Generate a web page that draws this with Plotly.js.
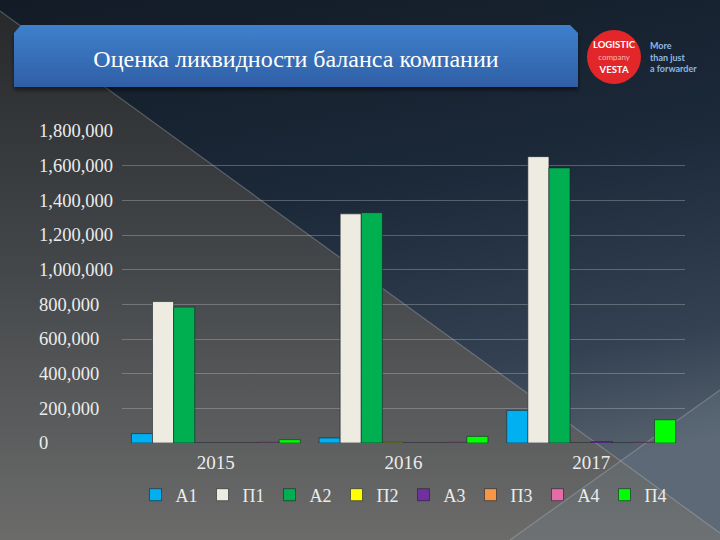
<!DOCTYPE html>
<html>
<head>
<meta charset="utf-8">
<script src="https://cdn.plot.ly/plotly-3.0.1.min.js"></script>
<style>
  html, body { margin: 0; padding: 0; background: #131c27; }
  #wrap { position: relative; width: 720px; height: 540px; overflow: hidden; }
  #bg { position: absolute; left: 0; top: 0; }
  #chart { position: absolute; left: 0; top: 0; width: 720px; height: 540px; }
</style>
</head>
<body>
<div id="wrap">
<svg id="bg" width="720" height="540" xmlns="http://www.w3.org/2000/svg">
  <defs>
    <linearGradient id="navy" x1="0" y1="0" x2="0.25" y2="1">
      <stop offset="0" stop-color="#121b26"/>
      <stop offset="0.45" stop-color="#1c2939"/>
      <stop offset="0.8" stop-color="#334152"/>
      <stop offset="1" stop-color="#56616d"/>
    </linearGradient>
    <linearGradient id="gray" x1="0" y1="0" x2="0" y2="1">
      <stop offset="0" stop-color="#27292b"/>
      <stop offset="0.5" stop-color="#45484b"/>
      <stop offset="1" stop-color="#6b6b6a"/>
    </linearGradient>
    <linearGradient id="banner" x1="0" y1="0" x2="0" y2="1">
      <stop offset="0" stop-color="#3f80cc"/>
      <stop offset="1" stop-color="#2f5fa6"/>
    </linearGradient>
    <filter id="sh" x="-5%" y="-20%" width="110%" height="150%">
      <feDropShadow dx="0" dy="3" stdDeviation="2" flood-color="#000" flood-opacity="0.5"/>
    </filter>
  </defs>
  <rect x="0" y="0" width="720" height="540" fill="url(#navy)"/>
  <polygon points="0,11 720,533 720,540 0,540" fill="url(#gray)"/>
  <polygon points="510,540 720,390 720,540" fill="rgba(120,135,150,0.22)"/>
  <line x1="0" y1="11" x2="720" y2="533" stroke="rgba(200,205,215,0.3)" stroke-width="1.2"/>
  <line x1="510" y1="540" x2="720" y2="390" stroke="rgba(200,205,215,0.3)" stroke-width="1.2"/>
  <path d="M14,33 L21,25 L570,25 L578,33 L578,87 L14,87 Z" fill="url(#banner)" filter="url(#sh)"/>
  <circle cx="614" cy="57" r="27" fill="#e3262a"/>
</svg>
<div id="chart"></div>
</div>
<script>
// ---- data ----
const years = ["2015", "2016", "2017"];
const seriesNames = ["А1", "П1", "А2", "П2", "А3", "П3", "А4", "П4"];
const A1 = [54000, 29000, 188000];
const P1 = [816000, 1322000, 1652000];
const A2 = [784000, 1329000, 1587000];
const P2 = [0, 4000, 0];
const A3 = [0, 0, 8000];
const P3 = [0, 0, 0];
const A4 = [4000, 4000, 4000];
const P4 = [19000, 38000, 134000];
const tickValues = [0, 200000, 400000, 600000, 800000, 1000000, 1200000, 1400000, 1600000, 1800000];
const tickLabels = ["0", "200,000", "400,000", "600,000", "800,000", "1,000,000", "1,200,000", "1,400,000", "1,600,000", "1,800,000"];
const chartTitle = "Оценка ликвидности баланса компании";

// ---- styles ----
const colors = ["#00b0f0", "#eeece1", "#00b050", "#ffff00", "#7030a0", "#f79646", "#e46ca8", "#00ff00"];
const values = [A1, P1, A2, P2, A3, P3, A4, P4];

// left-align tick labels by padding with figure / punctuation spaces
function emWidth(s) {
  let w = 0;
  for (const c of s) w += (c === ",") ? 0.25 : 0.5;
  return w;
}
const maxW = Math.max(...tickLabels.map(emWidth));
const paddedLabels = tickLabels.map(s => {
  let pad = maxW - emWidth(s);
  let out = s;
  while (pad >= 0.5) { out += "\u2007"; pad -= 0.5; }
  while (pad >= 0.25) { out += "\u2008"; pad -= 0.25; }
  return out;
});

const serif = "Liberation Serif, Times New Roman, serif";
const sans = "Lato, DejaVu Sans, sans-serif";
const traces = seriesNames.map((n, i) => ({
  type: "bar",
  name: n,
  x: years,
  y: values[i],
  marker: { color: colors[i], line: { color: "rgba(25,35,45,0.6)", width: 1 } },
  hoverinfo: "x+y+name"
}));

const L = 122, R = 35, T = 131, B = 97;
const pw = 720 - L - R, ph = 540 - T - B;
const px = v => (v - L) / pw;
const py = v => (540 - B - v) / ph;

const layout = {
  width: 720, height: 540,
  margin: { l: L, r: R, t: T, b: B, pad: 0 },
  paper_bgcolor: "rgba(0,0,0,0)",
  plot_bgcolor: "rgba(0,0,0,0)",
  barmode: "group",
  bargap: 0.1,
  bargroupgap: 0,
  title: {
    text: chartTitle,
    x: 296 / 720, xanchor: "center", xref: "container",
    y: 1 - 59 / 540, yanchor: "middle", yref: "container",
    font: { family: serif, size: 24, color: "#ffffff" }
  },
  xaxis: {
    type: "category",
    showgrid: false, zeroline: false, showline: false,
    ticks: "",
    tickfont: { family: serif, size: 19, color: "#ececec" },
    ticklabelstandoff: 6
  },
  yaxis: {
    range: [0, 1800000],
    tickmode: "array",
    tickvals: tickValues,
    ticktext: paddedLabels,
    showgrid: true,
    gridcolor: "rgba(200,205,210,0.33)",
    gridwidth: 1,
    zeroline: false, showline: false, ticks: "",
    tickfont: { family: serif, size: 18.5, color: "#ececec" },
    ticklabelstandoff: 8
  },
  showlegend: true,
  legend: {
    orientation: "h",
    x: 0.5, xanchor: "center",
    y: py(495), yanchor: "middle",
    font: { family: serif, size: 18, color: "#ececec" },
    itemwidth: 30,
    bgcolor: "rgba(0,0,0,0)",
    traceorder: "normal"
  },
  annotations: [
    { text: "<b>LOGISTIC</b><br><span style=\"color:#f6b7b7;font-size:8px\">company</span><br><b>VESTA</b>",
      xref: "paper", yref: "paper", x: px(614), y: py(57), xanchor: "center", yanchor: "middle",
      showarrow: false, borderpad: 0, align: "center",
      font: { family: sans, size: 9.5, color: "#ffffff" } },
    { text: "<b>More<br>than just<br>a forwarder</b>",
      xref: "paper", yref: "paper", x: px(649), y: py(57), xanchor: "left", yanchor: "middle",
      showarrow: false, borderpad: 0, align: "left",
      font: { family: sans, size: 9, color: "#8fb8e2" } }
  ]
};

Plotly.newPlot("chart", traces, layout, { displayModeBar: false, staticPlot: true });
</script>
</body>
</html>
